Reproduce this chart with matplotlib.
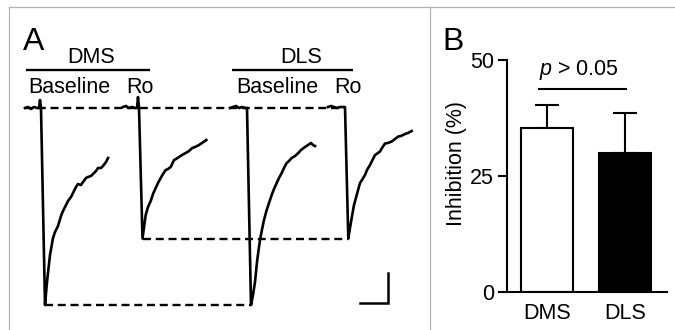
import matplotlib as mpl
mpl.use("Agg")
import matplotlib.pyplot as plt

# Panel A: EPSC traces (time in ms from trace start, current in pA from baseline)
DMS_BASE_T = [0, 3, 6, 9, 12, 14, 15, 16, 20, 22, 25, 28, 30, 33, 36, 38, 41, 43, 46, 48,
              51, 53, 56, 58, 61, 63, 66, 68, 71, 73, 76, 78, 81, 83]
DMS_BASE_I = [-1, 1, -3, 1, -1, -1, 15, -1, -395, -349, -295, -261, -249, -237, -217, -207,
              -195, -187, -179, -171, -159, -153, -155, -149, -141, -139, -137, -133, -127,
              -121, -121, -117, -109, -101]

DMS_RO_T = [0, 3, 6, 9, 12, 14, 15, 16, 19.5, 22.7, 25, 27.7, 30, 32.7, 35, 37.7, 40, 42.7,
            45, 47.7, 51, 53, 56, 59, 62.7, 66, 69.3, 72, 76, 79, 83.3]
DMS_RO_I = [1, 3, -1, 1, -1, -1, 21, -1, -262, -215, -199, -187, -173, -161, -151, -141,
            -133, -125, -123, -119, -105, -103, -99, -95, -91, -87, -81, -79, -75, -71, -65]

DLS_BASE_T = [0, 3, 6, 9, 12, 15, 17, 21, 23, 25, 27, 28.3, 30, 32.3, 34, 36.7, 39, 41.7,
              44, 46.7, 49, 51.7, 54, 56.7, 59, 61.7, 65, 68.3, 71, 75, 78, 81, 83, 85]
DLS_BASE_I = [-1, 1, 3, -1, 1, -1, -1, -395, -375, -349, -309, -289, -265, -241, -225, -205,
              -191, -175, -163, -151, -141, -131, -121, -111, -107, -101, -97, -91, -85, -79,
              -75, -71, -75, -77]

DLS_RO_T = [0, 3, 6, 9, 12, 15, 17, 20.3, 22, 23.7, 26, 28.7, 32, 34, 37, 39, 42, 44, 47,
            50, 52, 54, 57, 60, 63.7, 67, 70.3, 73, 77, 80, 83.7]
DLS_RO_I = [1, 3, 1, -1, 1, 1, 1, -262, -241, -221, -195, -175, -151, -145, -135, -125,
            -115, -107, -95, -91, -88, -81, -72, -71, -68, -63, -58, -57, -53, -51, -47]

SCALE_MS = 28
SCALE_PA = 60

# Panel B: inhibition (%)
REGIONS = ["DMS", "DLS"]
INHIBITION = [35.3, 29.9]
INHIBITION_SEM = [5.1, 8.6]
P_TEXT = "$p$ > 0.05"

mpl.rcParams.update({
    "font.family": ["Liberation Sans", "DejaVu Sans"],
    "font.size": 15.5,
    "mathtext.fontset": "custom",
    "mathtext.rm": "Liberation Sans",
    "mathtext.it": "Liberation Sans:italic",
})

W, H = 675, 330
fig = plt.figure(figsize=(W / 100, H / 100), dpi=100)
fig.patch.set_facecolor("white")

# overlay in pixel coordinates for frame and labels
ov = fig.add_axes([0, 0, 1, 1])
ov.set_xlim(0, W)
ov.set_ylim(H, 0)
ov.axis("off")
ov.patch.set_alpha(0)
frame_kw = dict(color="#b4b4b4", lw=0.9)
ov.plot([9, W], [7, 7], **frame_kw)
ov.plot([9, 9], [7, H], **frame_kw)
ov.plot([430, 430], [7, H], **frame_kw)

ov.text(23, 50, "A", fontsize=23, ha="left", va="baseline")
ov.text(442, 50, "B", fontsize=23, ha="left", va="baseline")

for cx, x0, x1, name, bx, rx in [(91.5, 26, 150, "DMS", 28, 126),
                                  (301, 232, 353, "DLS", 236, 334)]:
    ov.text(cx, 63, name, ha="center", va="baseline")
    ov.plot([x0, x1], [70, 70], color="black", lw=1.7, solid_capstyle="butt")
    ov.text(bx, 93, "Baseline", ha="left", va="baseline")
    ov.text(rx, 93, "Ro", ha="left", va="baseline")

# Panel A traces
axA = fig.add_axes([0, 0, 430 / W, 1])
axA.set_xlim(0, 430)
axA.set_ylim(-445, 215)
axA.axis("off")
axA.patch.set_alpha(0)

traces = [(DMS_BASE_T, DMS_BASE_I), (DMS_RO_T, DMS_RO_I),
          (DLS_BASE_T, DLS_BASE_I), (DLS_RO_T, DLS_RO_I)]
starts = [25, 123, 230, 328]
troughs = []
for (t, i), s in zip(traces, starts):
    x = [s + v for v in t]
    axA.plot(x, i, color="black", lw=1.9, solid_joinstyle="round", zorder=3)
    k = i.index(min(i))
    troughs.append((x[k], i[k]))

dash_kw = dict(color="black", lw=1.7, ls=(0, (3.4, 2.0)), zorder=2)
drop_x = starts[3] + DLS_RO_T[DLS_RO_I.index(min(DLS_RO_I)) - 1]
axA.plot([starts[0], drop_x], [0, 0], **dash_kw)
axA.plot([troughs[0][0], troughs[2][0]], [troughs[0][1], troughs[0][1]], **dash_kw)
axA.plot([troughs[1][0], troughs[3][0]], [troughs[1][1], troughs[1][1]], **dash_kw)

# scale bar
cx, cy = 388, -391
axA.plot([cx - SCALE_MS, cx, cx], [cy, cy, cy + SCALE_PA], color="black", lw=1.8,
         solid_joinstyle="miter")

# Panel B bars
axB = fig.add_axes([507 / W, (H - 292) / H, 160 / W, 232 / H])
axB.patch.set_alpha(0)
pos = list(range(len(REGIONS)))
axB.bar(pos, INHIBITION, width=0.66, color=["white", "black"], edgecolor="black",
        linewidth=1.5, zorder=2)
axB.errorbar(pos, INHIBITION, yerr=[[0, 0], INHIBITION_SEM], fmt="none", ecolor="black",
             elinewidth=1.5, capsize=8.5, capthick=1.5, zorder=1)
axB.set_xlim(-0.505, 1.53)
axB.set_ylim(0, 50)
axB.set_yticks([0, 25, 50])
axB.set_xticks(pos)
axB.set_xticklabels(REGIONS)
axB.tick_params(axis="y", length=6.5, width=1.5, pad=3, labelsize=15.5)
axB.tick_params(axis="x", length=0, pad=8, labelsize=15.5)
for side in ["top", "right"]:
    axB.spines[side].set_visible(False)
for side in ["left", "bottom"]:
    axB.spines[side].set_linewidth(1.5)
axB.set_ylabel("Inhibition (%)", fontsize=15.5)
axB.yaxis.set_label_coords(-0.25, 0.555)

axB.plot([-0.1, 1.01], [43.7, 43.7], color="black", lw=1.5, clip_on=False)
axB.text(0.41, 46.8, P_TEXT, ha="center", va="baseline", fontsize=15.5)

fig.savefig("out.png", dpi=100)
